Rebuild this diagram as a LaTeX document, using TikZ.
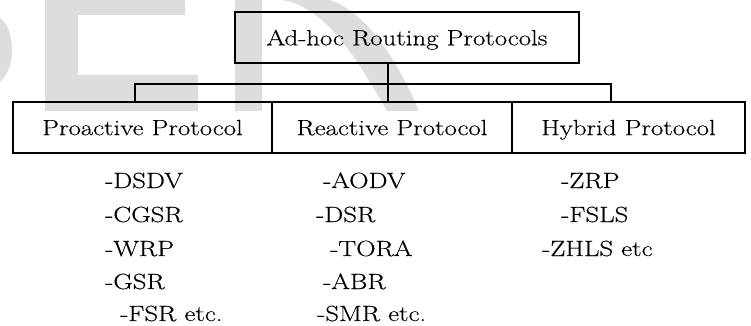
\documentclass[tikz,border=0pt]{standalone}
\usepackage{fontspec}
\usepackage{tikz}
\usetikzlibrary{positioning}
\newfontfamily\diagfamily{Latin Modern Roman}[FakeStretch=1.22,FakeBold=0.3]
\definecolor{markGray}{RGB}{221,221,221}
\tikzstyle{box} = [draw, line width=1.3pt, inner sep=0pt, outer sep=0pt, minimum height=51pt, text depth=0pt]
\tikzstyle{item} = [inner sep=0pt, anchor=base west]
\tikzstyle{link} = [line width=1.3pt]
\newcommand{\diagfont}{\diagfamily\fontsize{22}{26}\selectfont}

\begin{document}
\begin{tikzpicture}[x=1pt,y=-1pt,font=\diagfont]
	\useasboundingbox (0,0) rectangle (751,326);
	
	%Watermark
	\fill[markGray] (0,18) .. controls (9,24) and (12,38) .. (12,50) .. controls (12,63) and (8,75) .. (0,82) -- cycle;
	\fill[markGray] (45,0) -- (185,0) -- (185,15) -- (78,15) -- (78,75) -- (198,75) -- (198,111) -- (45,111) -- cycle;
	\fill[markGray] (235,0) rectangle (262,111);
	\fill[markGray] (283,0) -- (330,0) .. controls (365,12) and (395,55) .. (419,111) -- (387,111) .. controls (355,55) and (325,8) .. (283,0) -- cycle;
	
	%Nodes
	\node[box, minimum width=344pt] (root) at (407,37.5) {Ad-hoc Routing Protocols};
	\node[box, minimum width=240pt] (reactive) at (392,127.5) {Reactive Protocol};
	\node[box, minimum width=259pt, left=0pt of reactive] (proactive) {Proactive Protocol};
	\node[box, minimum width=233pt, right=0pt of reactive] (hybrid) {Hybrid Protocol};
	
	%Coordinates
	\coordinate (busLeft) at (135,84);
	\coordinate (busRight) at (611,84);
	\coordinate (drop) at (388,84);
	
	%Lines
	\draw[link] (proactive.north -| busLeft) -- (busLeft) -- (busRight) -- (hybrid.north -| busRight);
	\draw[link] (root.south -| drop) -- (reactive.north -| drop);
	
	%TextNodes
	\node[item] (proOne) at (105,188) {-DSDV};
	\node[item] (proTwo) at (105,222) {-CGSR};
	\node[item] (proThree) at (105,256) {-WRP};
	\node[item] (proFour) at (105,289) {-GSR};
	\node[item] (proFive) at (120,321) {-FSR etc.};
	
	\node[item] (reaOne) at (323,188) {-AODV};
	\node[item] (reaTwo) at (316,222) {-DSR};
	\node[item] (reaThree) at (330,256) {-TORA};
	\node[item] (reaFour) at (323,289) {-ABR};
	\node[item] (reaFive) at (317,321) {-SMR etc.};
	
	\node[item] (hybOne) at (561,188) {-ZRP};
	\node[item] (hybTwo) at (561,222) {-FSLS};
	\node[item] (hybThree) at (542,256) {-ZHLS etc};
\end{tikzpicture}
\end{document}
